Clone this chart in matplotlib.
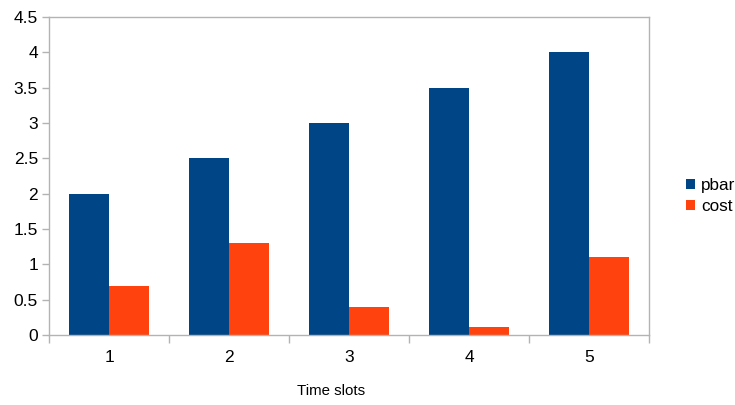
import matplotlib.pyplot as plt
import numpy as np

slots = ['1', '2', '3', '4', '5']
pbar = [2.0, 2.5, 3.0, 3.5, 4.0]
cost = [0.7, 1.3, 0.4, 0.12, 1.1]

plt.rcParams['font.family'] = ['Liberation Sans', 'DejaVu Sans']

fig = plt.figure(figsize=(7.35, 4.05), dpi=100)
ax = fig.add_axes([49/735, 1 - 335/405, 600/735, 318/405])

x = np.arange(len(slots))
w = 1/3
ax.bar(x - w/2, pbar, width=w, color='#004586', label='pbar')
ax.bar(x + w/2, cost, width=w, color='#ff420e', label='cost')

ax.set_xlim(-0.5, len(slots) - 0.5)
ax.set_ylim(0, 4.5)
ax.set_yticks(np.arange(0, 4.51, 0.5))
ax.set_yticklabels(['0', '0.5', '1', '1.5', '2', '2.5', '3', '3.5', '4', '4.5'])

# category labels in the middle, ticks at the boundaries
ax.set_xticks(x)
ax.set_xticklabels(slots)
ax.set_xticks(np.arange(-0.5, len(slots), 1), minor=True)
ax.tick_params(axis='x', which='major', length=0, pad=11, labelsize=12.5)
ax.tick_params(axis='x', which='minor', length=5.8, width=1, color='#b3b3b3')
ax.tick_params(axis='y', length=5, width=1, color='#b3b3b3', labelsize=12.5, pad=3)

for s in ax.spines.values():
    s.set_color('#b3b3b3')
    s.set_linewidth(1)

ax.set_xlabel('Time slots', fontsize=10.8, va='center')
ax.xaxis.set_label_coords(0.47, -0.176)

leg = fig.legend(loc='center left', bbox_to_anchor=(686/735, 1 - 196/405),
                 frameon=False, borderpad=0, borderaxespad=0,
                 fontsize=12.3, handlelength=0.55, handleheight=0.55,
                 handletextpad=0.35, labelspacing=0.35)

fig.savefig('out.png', dpi=100)
